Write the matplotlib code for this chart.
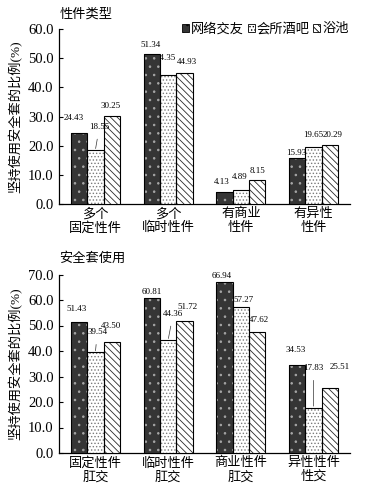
import matplotlib
matplotlib.use("Agg")
import matplotlib.pyplot as plt
from matplotlib.patches import Patch
import numpy as np

plt.rcParams['font.family'] = ['Liberation Serif', 'Noto Sans CJK SC', 'DejaVu Sans']
plt.rcParams['hatch.linewidth'] = 0.6

series = ['网络交友', '会所酒吧', '浴池']

cats_top = ['多个\n固定性件', '多个\n临时性件', '有商业\n性件', '有异性\n性件']
vals_top = [
    [24.43, 51.34, 4.13, 15.93],
    [18.55, 44.35, 4.89, 19.65],
    [30.25, 44.93, 8.15, 20.29],
]

cats_bot = ['固定性件\n肛交', '临时性件\n肛交', '商业性件\n肛交', '异性性件\n性交']
vals_bot = [
    [51.43, 60.81, 66.94, 34.53],
    [39.54, 44.36, 57.27, 17.83],
    [43.50, 51.72, 47.62, 25.51],
]

# label offsets (pixels) relative to bar top centre: (dx, dy, mode)
# mode 0: plain, 1: with leader line, 2: right-aligned, drawn beneath bars
off_top = [
    [(-5, 15, 0), (-1, 9, 0), (-3, 10, 0), (-1, 5, 0)],
    [(4, 23, 1), (8, 17, 2), (-1, 12.5, 0), (0, 11.5, 0)],
    [(-1, 10, 0), (3, 11, 0), (0, 9, 0), (3, 10, 0)],
]
off_bot = [
    [(-3, 13, 0), (0, 6, 0), (-3, 6, 0), (-2, 15, 0)],
    [(2, 20, 1), (5, 26, 1), (3, 7, 0), (0, 39.5, 1)],
    [(-1, 16, 0), (3, 14, 0), (2, 11.5, 0), (10, 21, 0)],
]

styles = [
    dict(fc='#353535', hc='#a8a8a8', hatch='..'),
    dict(fc='white', hc='#7a7a7a', hatch='.....'),
    dict(fc='white', hc='#2a2a2a', hatch='\\\\\\\\\\'),
]

cjk = dict(fontweight='light')

fig = plt.figure(figsize=(3.71, 4.88), dpi=100)
W, H = 371, 488
ax1 = fig.add_axes([59 / W, 1 - 204 / H, 291 / W, 175 / H])
ax2 = fig.add_axes([59 / W, 1 - 453 / H, 291 / W, 178.5 / H])

bw = 0.224
xs = np.arange(4)


def draw(ax, cats, vals, offs, ymax):
    for s in range(3):
        st = styles[s]
        pos = xs + (s - 1) * bw
        ax.bar(pos, vals[s], width=bw, color=st['fc'], edgecolor=st['hc'],
               hatch=st['hatch'], linewidth=0, zorder=3)
        ax.bar(pos, vals[s], width=bw, fill=False, edgecolor='black',
               linewidth=0.8, zorder=4)
        for i in range(4):
            dx, dy, mode = offs[s][i]
            v = vals[s][i]
            if mode == 2:
                ax.annotate(f'{v:.2f}', xy=(pos[i], v), xytext=(dx, dy),
                            textcoords='offset pixels', ha='right', va='center',
                            fontsize=6.5, zorder=1)
                continue
            kw = {}
            if mode == 1:
                kw['arrowprops'] = dict(arrowstyle='-', color='#333333', lw=0.5,
                                        shrinkA=4, shrinkB=1)
            ax.annotate(f'{v:.2f}', xy=(pos[i], v), xytext=(dx, dy),
                        textcoords='offset pixels', ha='center', va='center',
                        fontsize=6.5, zorder=5, **kw)
    ax.set_xlim(-0.5, 3.5)
    ax.set_ylim(0, ymax)
    ax.set_yticks(np.arange(0, ymax + 1, 10))
    ax.set_yticklabels([f'{t:.1f}' for t in np.arange(0, ymax + 1, 10)])
    ax.set_xticks(xs)
    ax.set_xticklabels(cats, fontsize=9.5, linespacing=1.15, **cjk)
    ax.tick_params(axis='x', length=0, pad=3)
    ax.tick_params(axis='y', direction='in', length=3, labelsize=10.5, pad=4)
    for sp in ['top', 'right']:
        ax.spines[sp].set_visible(False)
    for sp in ['left', 'bottom']:
        ax.spines[sp].set_linewidth(0.9)
    ax.set_ylabel('坚持使用安全套的比例(%)', fontsize=9.5, labelpad=4, **cjk)


draw(ax1, cats_top, vals_top, off_top, 60)
draw(ax2, cats_bot, vals_bot, off_bot, 70)

fig.text(86 / W, 1 - 14 / H, '性件类型', ha='center', va='center', fontsize=9.5, **cjk)
fig.text(92 / W, 1 - 258 / H, '安全套使用', ha='center', va='center', fontsize=9.5, **cjk)

handles = [Patch(facecolor=st['fc'], edgecolor='black', hatch=st['hatch'], linewidth=0.6)
           for st in styles]
fig.legend(handles, series, loc='center left', bbox_to_anchor=(182 / W, 1 - 29 / H),
           frameon=False, ncol=3, handlelength=0.55, handleheight=0.55,
           handletextpad=0.15, columnspacing=0.25, borderpad=0, borderaxespad=0,
           prop=dict(size=9.5, weight='light'))

fig.savefig('out.png', dpi=100)
